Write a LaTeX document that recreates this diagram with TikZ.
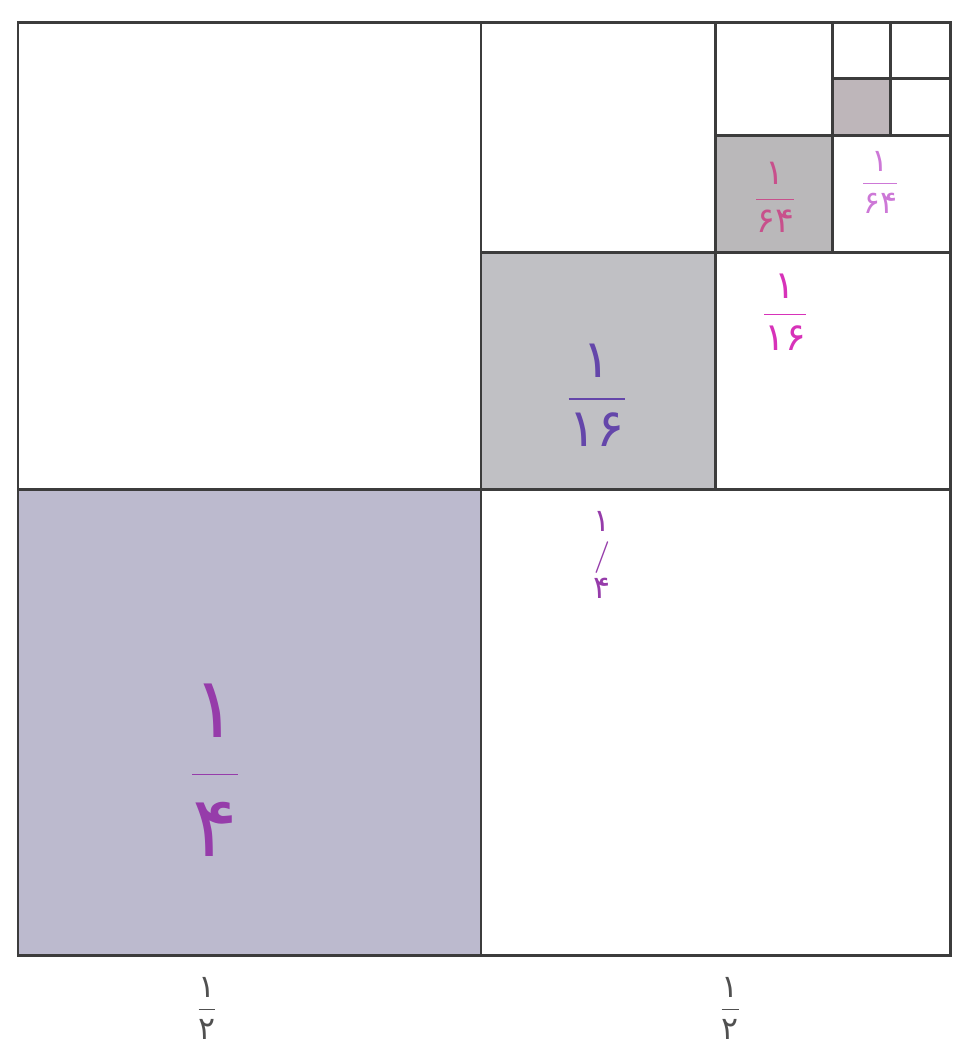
\documentclass[tikz,border=0pt]{standalone}
\usepackage{fontspec}
\newfontfamily\pf{DejaVu Sans}
\newcommand\myfrac[2]{$\displaystyle\frac{\hbox{\pf #1}}{\hbox{\pf #2}}$}
\definecolor{frameline}{RGB}{60,60,60}
\definecolor{grayA}{RGB}{188,186,206}
\definecolor{grayB}{RGB}{192,192,196}
\definecolor{grayC}{RGB}{186,184,186}
\definecolor{grayD}{RGB}{190,182,186}
\definecolor{inkPurple}{RGB}{150,60,170}
\definecolor{inkBlue}{RGB}{100,70,170}
\definecolor{inkPink}{RGB}{215,50,185}
\definecolor{inkRose}{RGB}{200,80,140}
\definecolor{inkLight}{RGB}{205,120,215}
\definecolor{inkGray}{RGB}{80,80,80}
\tikzset{
  cell/.style={draw=frameline, line width=0.85pt},
  lbl/.style={inner sep=0pt, text=#1},
}
\begin{document}
\begin{tikzpicture}[x=0.01cm,y=-0.01cm]
\useasboundingbox (0,0) rectangle (954,1060);
\fill[white] (0,0) rectangle (954,1060);
% shaded squares
\fill[grayA] (18,489) rectangle (481,955);
\fill[grayB] (481,252) rectangle (715,489);
\fill[grayC] (715,135) rectangle (832,252);
\fill[grayD] (832,78) rectangle (890,135);
% grid
\draw[cell] (18,22) rectangle (950,955);
\draw[cell] (481,22) -- (481,955);
\draw[cell] (18,489) -- (950,489);
\draw[cell] (715,22) -- (715,489);
\draw[cell] (481,252) -- (950,252);
\draw[cell] (832,22) -- (832,252);
\draw[cell] (715,135) -- (950,135);
\draw[cell] (890,22) -- (890,135);
\draw[cell] (832,78) -- (950,78);
% labels
\node[lbl=inkPurple, font=\fontsize{24}{28}\selectfont] (q1) at (215,770) {\myfrac{۱}{۴}};
\node[lbl=inkBlue, font=\fontsize{15}{18}\selectfont] (q2) at (597,395) {\myfrac{۱}{۱۶}};
\node[lbl=inkPink, font=\fontsize{11}{13}\selectfont] (w2) at (785,312) {\myfrac{۱}{۱۶}};
\node[lbl=inkRose, font=\fontsize{10}{12}\selectfont] (q3) at (775,197) {\myfrac{۱}{۶۴}};
\node[lbl=inkLight, font=\fontsize{9}{11}\selectfont] (w3) at (880,182) {\myfrac{۱}{۶۴}};
\node[lbl=inkPurple, font=\fontsize{9}{9.5}\selectfont, align=center] (w1) at (602,555) {{\pf ۱}\\/\\{\pf ۴}};
\node[lbl=inkGray, font=\fontsize{9}{11}\selectfont] (b1) at (207,1008) {\myfrac{۱}{۲}};
\node[lbl=inkGray, font=\fontsize{9}{11}\selectfont] (b2) at (730,1008) {\myfrac{۱}{۲}};
\end{tikzpicture}
\end{document}
